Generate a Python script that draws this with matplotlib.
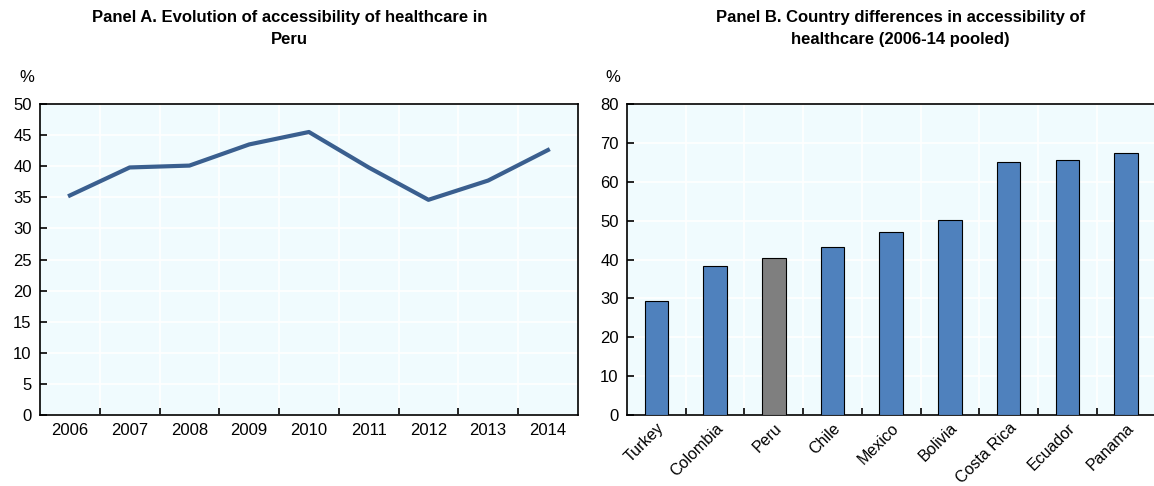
import numpy as np
import matplotlib
matplotlib.use("Agg")
import matplotlib.pyplot as plt

# ----------------------------------------------------------------------
# DATA
# ----------------------------------------------------------------------
years = [2006, 2007, 2008, 2009, 2010, 2011, 2012, 2013, 2014]
access_peru = [35.3, 39.8, 40.1, 43.5, 45.5, 39.8, 34.6, 37.7, 42.6]

countries = ["Turkey", "Colombia", "Peru", "Chile", "Mexico",
             "Bolivia", "Costa Rica", "Ecuador", "Panama"]
access_pooled = [29.3, 38.4, 40.5, 43.3, 47.2, 50.1, 65.0, 65.5, 67.4]

title_a = "Panel A. Evolution of accessibility of healthcare in\nPeru"
title_b = "Panel B. Country differences in accessibility of\nhealthcare (2006-14 pooled)"

# ----------------------------------------------------------------------
# STYLE
# ----------------------------------------------------------------------
BG = "#F0FBFE"
LINE_COL = "#3A5F8F"
BAR_COL = "#4F81BD"
PERU_COL = "#7F7F7F"

plt.rcParams["font.family"] = ["Liberation Sans Narrow", "Liberation Sans", "DejaVu Sans"]
plt.rcParams["font.size"] = 12


def style_axes(ax):
    ax.set_facecolor(BG)
    for s in ["top", "right", "left", "bottom"]:
        ax.spines[s].set_linewidth(1.2)
        ax.spines[s].set_color("black")
    ax.tick_params(axis="y", direction="in", length=5, width=1.2, pad=6, labelsize=12)
    ax.tick_params(axis="x", which="major", length=0, pad=6, labelsize=12)
    ax.tick_params(axis="x", which="minor", direction="in", length=5, width=1.2)
    ax.grid(True, which="minor", axis="x", color="white", linewidth=1.2)
    ax.grid(True, which="major", axis="y", color="white", linewidth=1.2)
    ax.set_axisbelow(True)


fig = plt.figure(figsize=(11.54, 4.86), dpi=100)

# ----------------------------------------------------------------------
# PANEL A
# ----------------------------------------------------------------------
ax1 = fig.add_axes([0.0347, 0.146, 0.466, 0.640])
xa = np.arange(len(years))
ax1.plot(xa, access_peru, color=LINE_COL, linewidth=3, solid_joinstyle="round")
ax1.set_xlim(-0.5, len(years) - 0.5)
ax1.set_ylim(0, 50)
ax1.set_yticks(np.arange(0, 51, 5))
ax1.set_xticks(xa)
ax1.set_xticklabels([str(y) for y in years])
ax1.set_xticks(np.arange(0.5, len(years) - 0.5, 1), minor=True)
style_axes(ax1)
fig.text(0.0234, 0.832, "%", fontsize=12, ha="center")
fig.text(0.251, 0.941, title_a, ha="center", va="center", linespacing=1.55,
         fontsize=12, fontweight="bold", family=["Liberation Sans", "DejaVu Sans"])

# ----------------------------------------------------------------------
# PANEL B
# ----------------------------------------------------------------------
ax2 = fig.add_axes([0.5433, 0.146, 0.458, 0.640])
xb = np.arange(len(countries))
colors = [PERU_COL if c == "Peru" else BAR_COL for c in countries]
ax2.bar(xb, access_pooled, width=0.4, color=colors, edgecolor="black", linewidth=0.8, zorder=3)
ax2.set_xlim(-0.5, len(countries) - 0.5)
ax2.set_ylim(0, 80)
ax2.set_yticks(np.arange(0, 81, 10))
ax2.set_xticks(xb)
ax2.set_xticklabels(countries, rotation=45, ha="right", rotation_mode="anchor")
ax2.set_xticks(np.arange(0.5, len(countries) - 0.5, 1), minor=True)
style_axes(ax2)
ax2.tick_params(axis="x", which="major", pad=4, labelsize=11.5)
fig.text(0.531, 0.832, "%", fontsize=12, ha="center")
fig.text(0.780, 0.941, title_b, ha="center", va="center", linespacing=1.55,
         fontsize=12, fontweight="bold", family=["Liberation Sans", "DejaVu Sans"])

fig.savefig("out.png", dpi=100)
